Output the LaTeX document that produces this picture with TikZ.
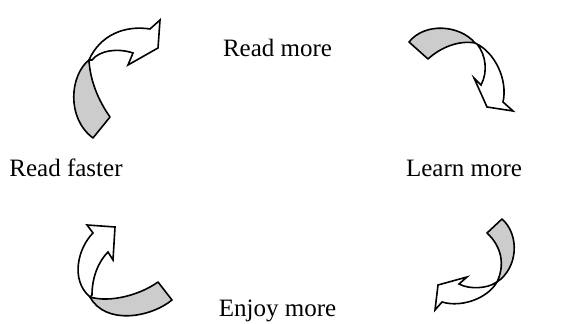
\documentclass[tikz,border=0pt]{standalone}
\usepackage{fontspec}
\setmainfont{Liberation Serif}
\usepackage{xcolor}
\definecolor{bandgray}{HTML}{CCCCCC}

\begin{document}
\begin{tikzpicture}[x=0.5pt, y=-0.5pt,
    every node/.style={font=\fontsize{12.5}{15}\selectfont, inner sep=0pt},
    band/.style={draw=black, line width=0.8pt, line join=round, fill=bandgray},
    face/.style={draw=black, line width=0.8pt, line join=miter, fill=white}]
  \useasboundingbox (0,0) rectangle (566,324);

  % labels
  \node[anchor=base] (readmore) at (277.5,57) {Read more};
  \node[anchor=base] (learnmore) at (464,177) {Learn more};
  \node[anchor=base] (enjoymore) at (277.5,317) {Enjoy more};
  \node[anchor=base] (readfaster) at (66,177) {Read faster};

  % top left arrow
  \draw[band] (89,60) .. controls (70,75) and (66,118) .. (93,138) -- (110,117)
    .. controls (98,100) and (90,80) .. (89,60) -- cycle;
  \draw[face] (89,60) .. controls (100,35) and (125,25) .. (150,29) -- (160,20)
    -- (158,48) -- (128,65) -- (133,53) .. controls (118,48) and (100,50) .. (92,60) -- cycle;

  % top right arrow
  \draw[band] (475,43) .. controls (460,25) and (425,22) .. (409,42) -- (428,59)
    .. controls (440,48) and (458,40) .. (475,43) -- cycle;
  \draw[face] (475,43) .. controls (495,52) and (508,80) .. (503,102) -- (513,111)
    -- (487,107) -- (474,78) -- (481,85) .. controls (488,72) and (486,55) .. (477,44) -- cycle;

  % bottom right arrow
  \draw[band] (497,282) .. controls (518,268) and (520,235) .. (502,219) -- (487,233)
    .. controls (502,247) and (505,265) .. (497,282) -- cycle;
  \draw[face] (497,282) .. controls (488,298) and (462,308) .. (442,302) -- (435,310)
    -- (438,285) -- (467,277) -- (459,284) .. controls (470,290) and (488,288) .. (495,283) -- cycle;

  % bottom left arrow
  \draw[band] (90,297) .. controls (110,303) and (140,295) .. (158,282) -- (172,300)
    .. controls (150,318) and (105,325) .. (90,297) -- cycle;
  \draw[face] (93,233) -- (87,225) -- (115,227) -- (113,260) -- (108,252)
    .. controls (98,262) and (92,278) .. (92,295) -- (90,297)
    .. controls (70,280) and (78,248) .. (93,233) -- cycle;
\end{tikzpicture}
\end{document}
